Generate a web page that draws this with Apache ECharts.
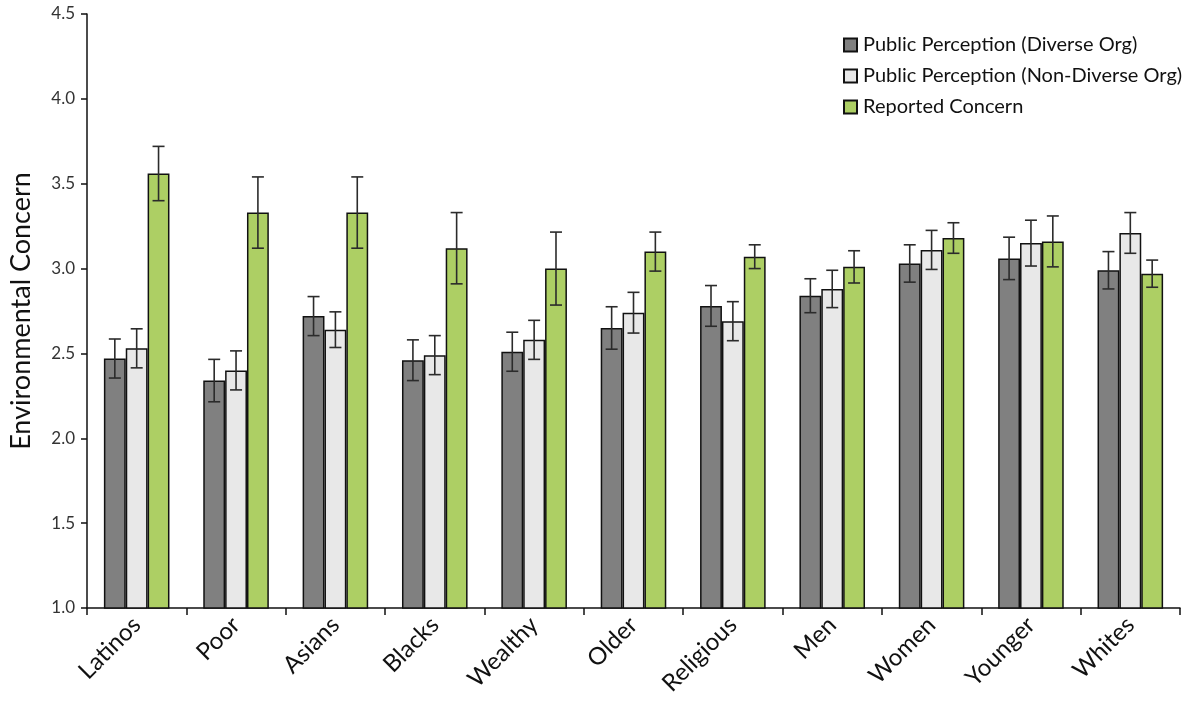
<!DOCTYPE html>
<html>
<head>
<meta charset="utf-8">
<script src="https://cdn.jsdelivr.net/npm/echarts@6/dist/echarts.min.js"></script>
<style>
  html, body { margin: 0; padding: 0; background: #fff; }
  #chart { width: 1194px; height: 717px; }
</style>
</head>
<body>
<div id="chart"></div>
<script>
// Groups on the category axis
const categories = ['Latinos', 'Poor', 'Asians', 'Blacks', 'Wealthy', 'Older', 'Religious', 'Men', 'Women', 'Younger', 'Whites'];

// Mean environmental concern per group
const diverseOrg    = [2.47, 2.34, 2.72, 2.46, 2.51, 2.65, 2.78, 2.84, 3.03, 3.06, 2.99];
const nonDiverseOrg = [2.53, 2.40, 2.64, 2.49, 2.58, 2.74, 2.69, 2.88, 3.11, 3.15, 3.21];
const reported      = [3.56, 3.33, 3.33, 3.12, 3.00, 3.10, 3.07, 3.01, 3.18, 3.16, 2.97];

// Half-widths of the error bars
const diverseErr    = [0.115, 0.125, 0.115, 0.12, 0.115, 0.125, 0.12, 0.10, 0.11, 0.125, 0.11];
const nonDiverseErr = [0.115, 0.115, 0.105, 0.115, 0.115, 0.12, 0.115, 0.11, 0.115, 0.135, 0.12];
const reportedErr   = [0.16, 0.21, 0.21, 0.21, 0.215, 0.115, 0.07, 0.095, 0.09, 0.15, 0.08];

const seriesNames = ['Public Perception (Diverse Org)', 'Public Perception (Non-Diverse Org)', 'Reported Concern'];
const seriesColors = ['#808080', '#e8e8e8', '#adcf64'];
const yTicks = [1.0, 1.5, 2.0, 2.5, 3.0, 3.5, 4.0, 4.5];

const FONT = 'Lato, "Open Sans", sans-serif';
const CATEGORY_GAP = 0.34;

const values = [diverseOrg, nonDiverseOrg, reported];
const errors = [diverseErr, nonDiverseErr, reportedErr];

const barSeries = values.map((vals, i) => ({
  name: seriesNames[i],
  type: 'bar',
  data: vals,
  barGap: '0%',
  barCategoryGap: (CATEGORY_GAP * 100) + '%',
  itemStyle: { color: seriesColors[i], borderColor: '#111', borderWidth: 1.5 },
  emphasis: { disabled: true },
  z: 2
}));

// Error bars drawn over each bar, offset to the bar's slot in its group
const errorSeries = values.map((vals, i) => ({
  name: seriesNames[i] + ' error',
  type: 'custom',
  data: vals.map((v, k) => [k, v, errors[i][k]]),
  encode: { x: 0, y: 1 },
  z: 5,
  silent: true,
  renderItem: function (params, api) {
    const k = api.value(0);
    const v = api.value(1);
    const e = api.value(2);
    const band = api.size([1, 0])[0];
    const barW = band * (1 - CATEGORY_GAP) / 3;
    const center = api.coord([k, v])[0] + (i - 1) * barW;
    const top = api.coord([k, v + e])[1];
    const bottom = api.coord([k, v - e])[1];
    const cap = 6;
    const style = { stroke: '#2b2b2b', lineWidth: 1.6 };
    return {
      type: 'group',
      children: [
        { type: 'line', shape: { x1: center, y1: top, x2: center, y2: bottom }, style },
        { type: 'line', shape: { x1: center - cap, y1: top, x2: center + cap, y2: top }, style },
        { type: 'line', shape: { x1: center - cap, y1: bottom, x2: center + cap, y2: bottom }, style }
      ]
    };
  }
}));

const chart = echarts.init(document.getElementById('chart'), null, { renderer: 'canvas' });
chart.setOption({
  animation: false,
  backgroundColor: '#ffffff',
  grid: { left: 84, right: 14, top: 14, bottom: 109, containLabel: false },
  legend: {
    data: seriesNames,
    orient: 'vertical',
    left: 838,
    top: 30,
    itemGap: 11,
    itemWidth: 13,
    itemHeight: 13,
    icon: 'rect',
    textStyle: { fontFamily: FONT, fontSize: 20, lineHeight: 20, color: '#111', padding: [0, 0, 0, 1] }
  },
  xAxis: {
    type: 'category',
    data: categories,
    axisLine: { lineStyle: { color: '#111', width: 1.5 } },
    axisTick: { show: true, length: 7, lineStyle: { color: '#111', width: 1.5 } },
    axisLabel: {
      rotate: 45,
      margin: 13,
      fontFamily: FONT,
      fontSize: 24,
      color: '#111'
    }
  },
  yAxis: {
    type: 'value',
    min: 1.0,
    max: 4.5,
    interval: 0.5,
    name: 'Environmental Concern',
    nameLocation: 'middle',
    nameGap: 52,
    nameTextStyle: { fontFamily: FONT, fontSize: 27, color: '#111' },
    splitLine: { show: false },
    axisLine: { show: true, lineStyle: { color: '#111', width: 1.5 } },
    axisTick: { show: true, length: 6, lineStyle: { color: '#111', width: 1.5 } },
    axisLabel: {
      margin: 12,
      fontFamily: FONT,
      fontSize: 17,
      color: '#333',
      formatter: v => yTicks.includes(v) ? v.toFixed(1) : ''
    }
  },
  series: [...barSeries, ...errorSeries]
});
</script>
</body>
</html>
